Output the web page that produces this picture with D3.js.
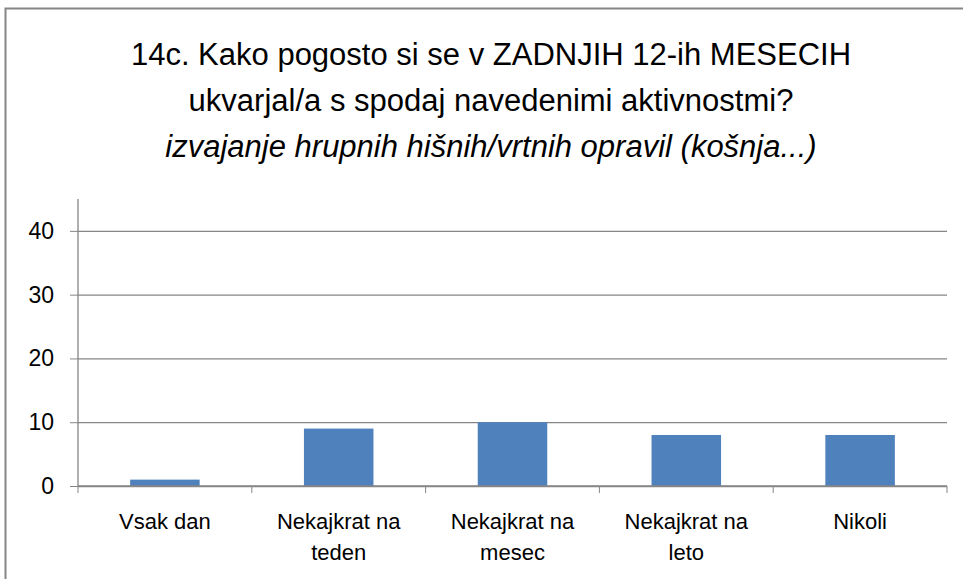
<!DOCTYPE html>
<html lang="sl">
<head>
    <meta charset="UTF-8">
    <title>14c. Kako pogosto</title>
    <script src="https://d3js.org/d3.v7.min.js"></script>
    <style>
        body { margin: 0; background: #fff; }
        #chart svg { font-family: "Liberation Sans", Arial, sans-serif; }
    </style>
</head>
<body>
<div id="chart"></div>
<script>
var categories = [["Vsak dan"], ["Nekajkrat na", "teden"], ["Nekajkrat na", "mesec"], ["Nekajkrat na", "leto"], ["Nikoli"]];
var values = [1, 9, 10, 8, 8];
var yTicks = [0, 10, 20, 30, 40];
var titleLines = [
    "14c. Kako pogosto si se v ZADNJIH 12-ih MESECIH",
    "ukvarjal/a s spodaj navedenimi aktivnostmi?",
    "izvajanje hrupnih hišnih/vrtnih opravil (košnja...)"
];

var width = 963, height = 579;
var margin = {left: 78, right: 16, top: 199, bottom: 93};

var svg = d3.select("#chart").append("svg")
    .attr("width", width)
    .attr("height", height);

// chart frame
svg.append("rect")
    .attr("x", 5.5).attr("y", 8.5)
    .attr("width", 980).attr("height", 600)
    .attr("fill", "white")
    .attr("stroke", "#868686")
    .attr("stroke-width", 2);

// title
svg.selectAll(".title")
    .data(titleLines)
    .enter()
    .append("text")
    .attr("class", "title")
    .attr("x", 491)
    .attr("y", (d, i) => 65 + i * 46)
    .attr("text-anchor", "middle")
    .attr("font-size", 31)
    .attr("font-style", (d, i) => i == 2 ? "italic" : "normal")
    .attr("fill", "#000")
    .text(d => d);

var x = d3.scaleBand()
    .domain(d3.range(categories.length))
    .range([margin.left, width - margin.right])
    .paddingInner(0.6)
    .paddingOuter(0.3);

var y = d3.scaleLinear()
    .domain([0, 45])
    .range([height - margin.bottom, margin.top]);

// gridlines
svg.append("g")
    .attr("transform", `translate(${margin.left},0)`)
    .call(d3.axisLeft(y)
        .tickValues(yTicks)
        .tickSize(-(width - margin.right - margin.left))
        .tickFormat(""))
    .call(g => g.select(".domain").remove())
    .call(g => g.selectAll("line").attr("stroke", "#868686").attr("stroke-width", 1.3));

// y axis
var yAxis = svg.append("g")
    .attr("transform", `translate(${margin.left},0)`)
    .call(d3.axisLeft(y).tickValues(yTicks).tickSize(8).tickPadding(16));
yAxis.select(".domain").attr("stroke", "#868686").attr("stroke-width", 1.3).attr("d", `M0,${y(45)}V${y(0)}`);
yAxis.selectAll("line").attr("stroke", "#868686");
yAxis.selectAll("text").attr("font-size", 23).attr("fill", "#000")
    .attr("font-family", "Liberation Sans, Arial, sans-serif");

// bars
svg.selectAll(".bar")
    .data(values)
    .enter()
    .append("rect")
    .attr("class", "bar")
    .attr("x", (d, i) => x(i))
    .attr("y", d => y(d))
    .attr("width", x.bandwidth())
    .attr("height", d => y(0) - y(d))
    .attr("fill", "#4F81BD");

// x axis
var step = x.step();
var xAxis = svg.append("g").attr("transform", `translate(0,${y(0)})`);
xAxis.append("line")
    .attr("x1", margin.left).attr("x2", width - margin.right)
    .attr("stroke", "#868686").attr("stroke-width", 1.3);
xAxis.selectAll(".tick")
    .data(d3.range(categories.length + 1))
    .enter()
    .append("line")
    .attr("x1", i => margin.left + i * step)
    .attr("x2", i => margin.left + i * step)
    .attr("y1", 0).attr("y2", 7)
    .attr("stroke", "#868686");

xAxis.selectAll(".cat")
    .data(categories)
    .enter()
    .append("text")
    .attr("class", "cat")
    .attr("text-anchor", "middle")
    .attr("font-size", 22)
    .attr("fill", "#000")
    .attr("transform", (d, i) => `translate(${x(i) + x.bandwidth() / 2},43)`)
    .selectAll("tspan")
    .data(d => d)
    .enter()
    .append("tspan")
    .attr("x", 0)
    .attr("dy", (d, i) => i == 0 ? 0 : 31)
    .text(d => d);
</script>
</body>
</html>
